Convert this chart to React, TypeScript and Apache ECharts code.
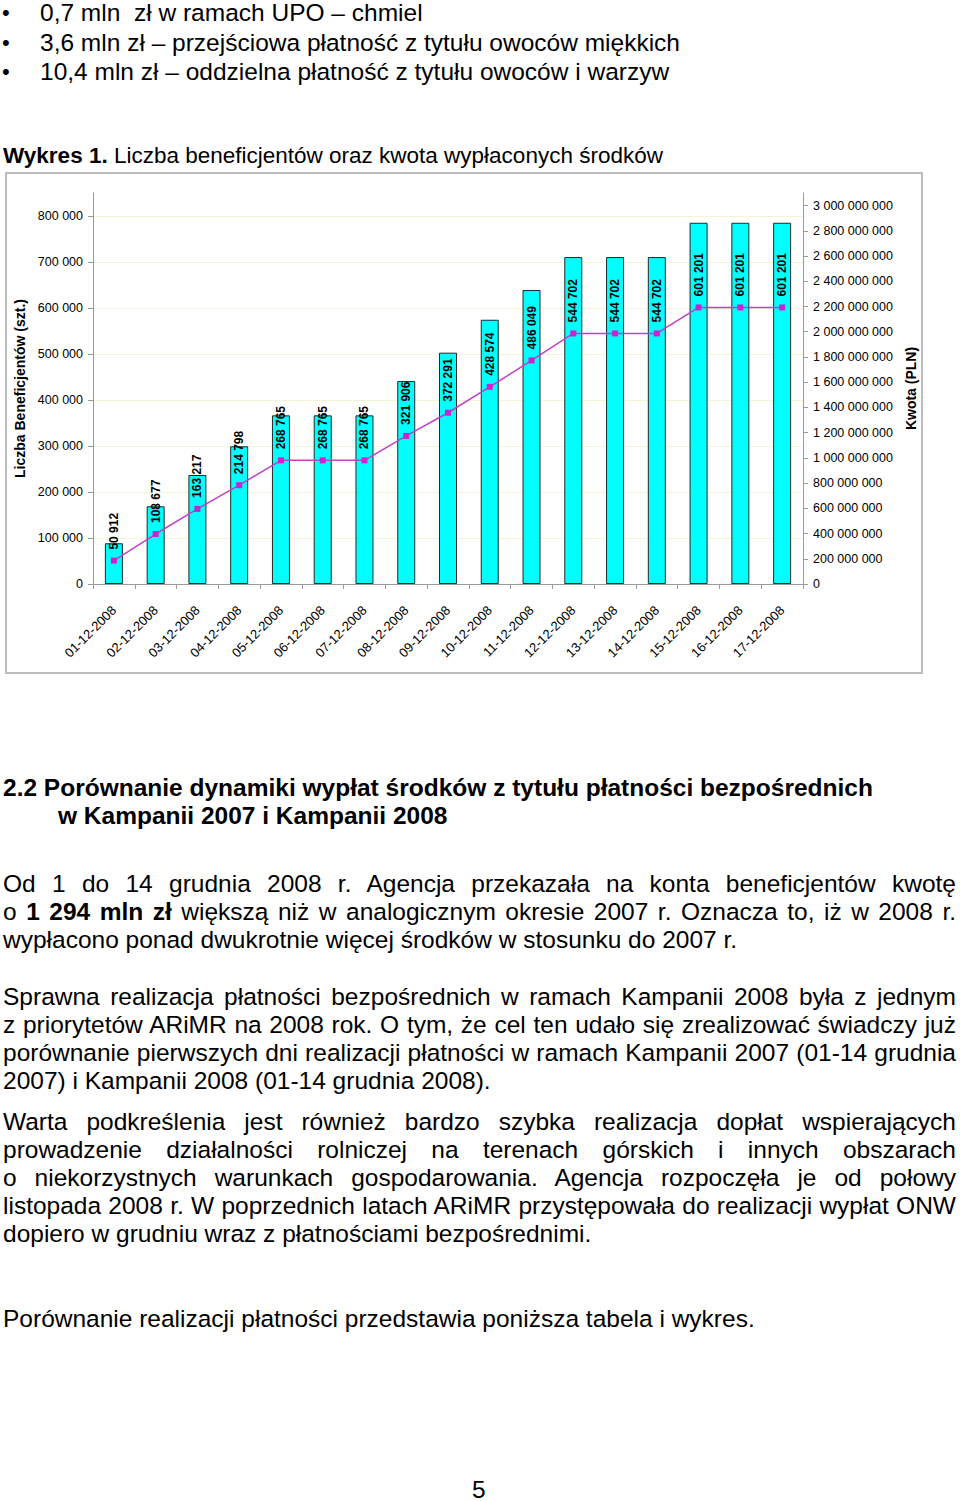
import React, { useEffect, useRef } from "react";
import * as echarts from "echarts";

const categories = [
  "01-12-2008", "02-12-2008", "03-12-2008", "04-12-2008", "05-12-2008", "06-12-2008",
  "07-12-2008", "08-12-2008", "09-12-2008", "10-12-2008", "11-12-2008", "12-12-2008",
  "13-12-2008", "14-12-2008", "15-12-2008", "16-12-2008", "17-12-2008",
];
const beneficiaries = [
  50912, 108677, 163217, 214798, 268765, 268765, 268765, 321906, 372291, 428574,
  486049, 544702, 544702, 544702, 601201, 601201, 601201,
];
const amounts = [
  323000000, 616000000, 864000000, 1092000000, 1337000000, 1337000000, 1337000000,
  1609000000, 1834000000, 2095000000, 2331000000, 2592000000, 2592000000, 2592000000,
  2864000000, 2864000000, 2864000000,
];
const leftAxisName = "Liczba Beneficjentów (szt.)";
const rightAxisName = "Kwota (PLN)";

const FONT = '"Liberation Sans", Arial, sans-serif';
const fmt = (v: number) => String(Math.round(v)).replace(/\B(?=(\d{3})+(?!\d))/g, " ");

function Chart() {
  const ref = useRef<HTMLDivElement>(null);
  useEffect(() => {
    if (!ref.current) return;
    const chart = echarts.init(ref.current, undefined, { renderer: "svg" });
    chart.setOption({
      animation: false,
      textStyle: { fontFamily: FONT, color: "#000" },
      grid: { left: 93, right: 157, top: 21, bottom: 91, containLabel: false },
      xAxis: {
        type: "category",
        data: categories,
        boundaryGap: true,
        axisLine: { lineStyle: { color: "#9a9a9a", width: 1 } },
        axisTick: { show: true, length: 5, lineStyle: { color: "#9a9a9a" } },
        axisLabel: { rotate: 45, interval: 0, fontSize: 13, color: "#000", margin: 24, fontFamily: FONT },
      },
      yAxis: [
        {
          type: "value",
          position: "left",
          min: 0,
          max: 850000,
          interval: 100000,
          name: leftAxisName,
          nameLocation: "middle",
          nameGap: 55,
          nameTextStyle: { fontWeight: "bold", fontSize: 14, color: "#000", fontFamily: FONT },
          axisLine: { show: true, lineStyle: { color: "#9a9a9a" } },
          axisTick: { show: true, length: 5, lineStyle: { color: "#9a9a9a" } },
          axisLabel: {
            fontSize: 12.5,
            color: "#000",
            margin: 10,
            showMaxLabel: false,
            formatter: (v: number) => (v > 800000 ? "" : fmt(v)),
          },
          splitLine: { show: true, showMaxLine: false, lineStyle: { color: "#f4f4d4", width: 1 } },
        },
        {
          type: "value",
          position: "right",
          min: 0,
          max: 3100000000,
          interval: 200000000,
          name: rightAxisName,
          nameLocation: "middle",
          nameGap: 90,
          nameTextStyle: { fontWeight: "bold", fontSize: 14, color: "#000", fontFamily: FONT },
          axisLine: { show: true, lineStyle: { color: "#9a9a9a" } },
          axisTick: { show: true, length: 5, lineStyle: { color: "#9a9a9a" } },
          axisLabel: {
            fontSize: 12.5,
            color: "#000",
            margin: 10,
            showMaxLabel: false,
            formatter: (v: number) => (v > 3000000000 ? "" : fmt(v)),
          },
          splitLine: { show: false },
        },
      ],
      series: [
        {
          type: "bar",
          yAxisIndex: 1,
          data: amounts,
          barWidth: 18,
          itemStyle: { color: "#00ffff", borderColor: "#1e2a2a", borderWidth: 1 },
        },
        {
          type: "line",
          yAxisIndex: 0,
          data: beneficiaries,
          symbol: "rect",
          symbolSize: 6,
          lineStyle: { color: "#c040c8", width: 1.5 },
          itemStyle: { color: "#d020d0" },
          label: {
            show: true,
            position: "top",
            rotate: 90,
            align: "left",
            verticalAlign: "middle",
            distance: 8,
            fontSize: 12,
            fontWeight: "bold",
            color: "#000",
            fontFamily: FONT,
            formatter: (p: any) => fmt(p.value),
          },
        },
      ],
    });
    return () => chart.dispose();
  }, []);
  return (
    <div
      ref={ref}
      style={{ position: "absolute", left: 0, top: 172, width: 960, height: 503 }}
    />
  );
}

type LineProps = {
  x: number;
  base: number;
  w?: number;
  justify?: boolean;
  size?: number;
  lh?: number;
  bold?: boolean;
  children: React.ReactNode;
};

function Line({ x, base, w, justify, size = 24.5, lh = 28, bold, children }: LineProps) {
  const top = base - ((lh - 1.117 * size) / 2 + 0.905 * size);
  return (
    <div
      style={{
        position: "absolute",
        left: x,
        top,
        width: w,
        height: lh,
        fontSize: size,
        lineHeight: lh + "px",
        fontWeight: bold ? "bold" : "normal",
        whiteSpace: "nowrap",
        textAlign: justify ? "justify" : "left",
        textAlignLast: justify ? "justify" : "auto",
      }}
    >
      {children}
    </div>
  );
}

export default function App() {
  const W = 953;
  return (
    <div
      style={{
        position: "absolute",
        left: 0,
        top: 0,
        width: 960,
        height: 1501,
        background: "#fff",
        color: "#000",
        fontFamily: FONT,
        overflow: "hidden",
      }}
    >
      <Line x={2} base={21} size={22}>•</Line>
      <Line x={40} base={21}>0,7 mln&nbsp; zł w ramach UPO – chmiel</Line>
      <Line x={2} base={51} size={22}>•</Line>
      <Line x={40} base={51}>3,6 mln zł – przejściowa płatność z tytułu owoców miękkich</Line>
      <Line x={2} base={80} size={22}>•</Line>
      <Line x={40} base={80}>10,4 mln zł – oddzielna płatność z tytułu owoców i warzyw</Line>

      <Line x={3} base={164} size={22.5}>
        <b>Wykres 1.</b> Liczba beneficjentów oraz kwota wypłaconych środków
      </Line>

      <div
        style={{
          position: "absolute",
          left: 5,
          top: 172,
          width: 914,
          height: 498,
          border: "2px solid #bdbdbd",
        }}
      />
      <Chart />

      <Line x={3} base={796} bold>
        2.2 Porównanie dynamiki wypłat środków z tytułu płatności bezpośrednich
      </Line>
      <Line x={58} base={824} bold>
        w Kampanii 2007 i Kampanii 2008
      </Line>

      <Line x={3} base={892} w={W} justify>
        Od 1 do 14 grudnia 2008 r. Agencja przekazała na konta beneficjentów kwotę
      </Line>
      <Line x={3} base={920} w={W} justify>
        o <b>1 294 mln zł</b> większą niż w analogicznym okresie 2007 r. Oznacza to, iż w 2008 r.
      </Line>
      <Line x={3} base={948}>
        wypłacono ponad dwukrotnie więcej środków w stosunku do 2007 r.
      </Line>

      <Line x={3} base={1005} w={W} justify>
        Sprawna realizacja płatności bezpośrednich w ramach Kampanii 2008 była z jednym
      </Line>
      <Line x={3} base={1033} w={W} justify>
        z priorytetów ARiMR na 2008 rok. O tym, że cel ten udało się zrealizować świadczy już
      </Line>
      <Line x={3} base={1061} w={W} justify>
        porównanie pierwszych dni realizacji płatności w ramach Kampanii 2007 (01-14 grudnia
      </Line>
      <Line x={3} base={1089}>
        2007) i Kampanii 2008 (01-14 grudnia 2008).
      </Line>

      <Line x={3} base={1130} w={W} justify>
        Warta podkreślenia jest również bardzo szybka realizacja dopłat wspierających
      </Line>
      <Line x={3} base={1158} w={W} justify>
        prowadzenie działalności rolniczej na terenach górskich i innych obszarach
      </Line>
      <Line x={3} base={1186} w={W} justify>
        o niekorzystnych warunkach gospodarowania. Agencja rozpoczęła je od połowy
      </Line>
      <Line x={3} base={1214} w={W} justify>
        listopada 2008 r. W poprzednich latach ARiMR przystępowała do realizacji wypłat ONW
      </Line>
      <Line x={3} base={1242}>
        dopiero w grudniu wraz z płatnościami bezpośrednimi.
      </Line>

      <Line x={3} base={1327}>
        Porównanie realizacji płatności przedstawia poniższa tabela i wykres.
      </Line>

      <Line x={472} base={1498} lh={18}>5</Line>
    </div>
  );
}
